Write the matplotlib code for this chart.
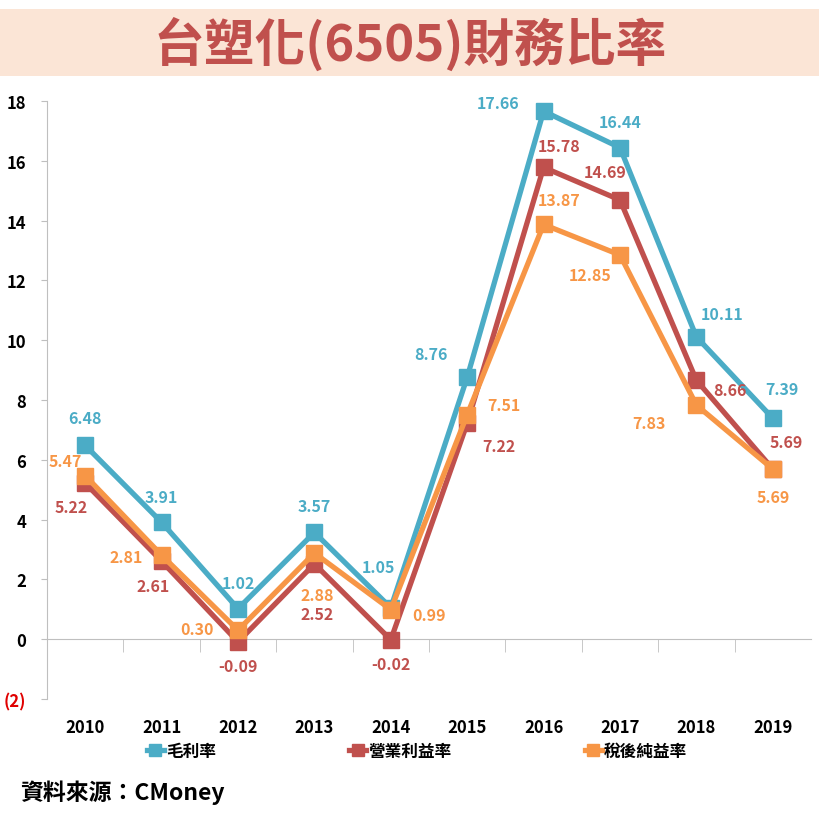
import matplotlib
matplotlib.use("Agg")
import matplotlib.pyplot as plt
from matplotlib.lines import Line2D
from matplotlib.patches import Rectangle

plt.rcParams["font.family"] = ["Noto Sans CJK TC", "DejaVu Sans"]

# Data
years = ["2010", "2011", "2012", "2013", "2014", "2015", "2016", "2017", "2018", "2019"]
gross_margin = [6.48, 3.91, 1.02, 3.57, 1.05, 8.76, 17.66, 16.44, 10.11, 7.39]
operating_margin = [5.22, 2.61, -0.09, 2.52, -0.02, 7.22, 15.78, 14.69, 8.66, 5.69]
net_margin = [5.47, 2.81, 0.30, 2.88, 0.99, 7.51, 13.87, 12.85, 7.83, 5.69]
series_names = ["毛利率", "營業利益率", "稅後純益率"]
y_ticks = [-2, 0, 2, 4, 6, 8, 10, 12, 14, 16, 18]
y_tick_labels = ["(2)", "0", "2", "4", "6", "8", "10", "12", "14", "16", "18"]

BLUE = "#4BACC6"
RED = "#C0504D"
ORANGE = "#F79646"

# Label offsets (pixels) so the value labels sit where they do in the reference
blue_offsets = [(0, 27), (0, 25), (0, 26), (0, 26), (-12, 41), (-36, 23),
                (-46, 8), (0, 26), (26, 23), (9, 29)]
red_offsets = [(-14, -24), (-8, -25), (0, -24), (3, -50), (0, -24), (32, -23),
               (16, 21), (-15, 28), (34, -10), (13, 27)]
orange_offsets = [(-20, 15), (-35, -2), (-41, 1), (3, -42), (38, -5), (37, 10),
                  (16, 24), (-30, -20), (-47, -18), (0, -28)]

fig = plt.figure(figsize=(8.2, 8.2), dpi=100)
fig.patch.set_facecolor("white")

# Title band
fig.patches.append(Rectangle((0, 1 - 77 / 820), 1, 67 / 820, transform=fig.transFigure,
                             facecolor="#FBE5D6", edgecolor="none", zorder=0))
fig.text(0.5, 1 - 45 / 820, "台塑化(6505)財務比率", ha="center", va="center",
         fontsize=36.5, fontweight="bold", color=RED)

ax = fig.add_axes([47 / 820, 1 - 700 / 820, (811 - 47) / 820, (700 - 102) / 820])
x = list(range(len(years)))

plots = [
    (gross_margin, BLUE, blue_offsets),
    (operating_margin, RED, red_offsets),
    (net_margin, ORANGE, orange_offsets),
]
for i, (values, color, offsets) in enumerate(plots):
    ax.plot(x, values, color=color, linewidth=3.8, marker="s", markersize=12,
            zorder=3 + i, label=series_names[i], solid_joinstyle="miter")
    for xi, v, (dx, dy) in zip(x, values, offsets):
        ax.annotate(f"{v:.2f}", (xi, v), textcoords="offset pixels", xytext=(dx, dy),
                    ha="center", va="center", fontsize=11.5, fontweight="bold",
                    color=color, zorder=10)

ax.set_xlim(-0.5, len(years) - 0.5)
ax.set_ylim(-2, 18)

# Y axis
ax.set_yticks(y_ticks)
ax.set_yticklabels(y_tick_labels, fontsize=12, fontweight="bold")
ax.get_yticklabels()[0].set_color("#E00000")
ax.tick_params(axis="y", length=4, color="#BFBFBF", pad=11)

# X axis drawn along zero, with category boundary ticks
ax.spines["bottom"].set_position(("data", 0))
ax.spines["bottom"].set_color("#BFBFBF")
ax.spines["left"].set_color("#BFBFBF")
ax.spines["top"].set_visible(False)
ax.spines["right"].set_visible(False)
ax.set_xticks(x)
ax.set_xticklabels(years, fontsize=12, fontweight="bold")
ax.set_xticks([i + 0.5 for i in x[:-1]], minor=True)
ax.tick_params(axis="x", which="major", length=0, pad=57)
ax.tick_params(axis="x", which="minor", length=9, color="#BFBFBF")

# Legend
handles = [Line2D([0], [0], color=c, linewidth=3.8, marker="s", markersize=8)
           for c in (BLUE, RED, ORANGE)]
fig.legend(handles, series_names, loc="center left", bbox_to_anchor=(132 / 820, 1 - 752 / 820),
           ncol=3, frameon=False, handlelength=1.0, handletextpad=0.15,
           columnspacing=8.0, prop={"weight": "bold", "size": 12})

fig.text(20 / 820, 1 - 793 / 820, "資料來源：CMoney", ha="left", va="center",
         fontsize=16.5, fontweight="bold", color="black")

fig.savefig("out.png", dpi=100)
